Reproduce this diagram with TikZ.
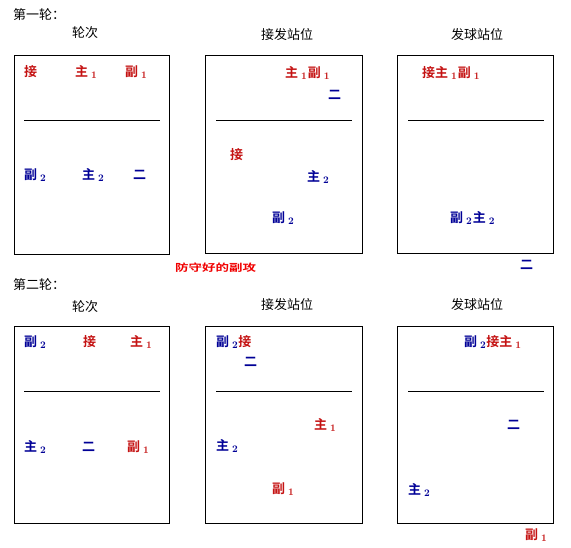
\documentclass[tikz,border=0pt]{standalone}
\usepackage{fontspec}
\usepackage{xcolor}
\newfontfamily\cjk[BoldFont={Noto Sans CJK SC Bold}]{Noto Sans CJK SC}
\definecolor{frontred}{RGB}{196,18,18}
\definecolor{backblue}{RGB}{0,0,150}
\definecolor{notered}{RGB}{240,0,0}
% a player with his number
\newcommand{\pl}[2]{#1\hspace{3pt}\raisebox{-2.5pt}{\normalfont\bfseries\fontsize{10}{10}\selectfont #2}\hspace{1pt}}
\tikzset{
  title/.style={font=\cjk\fontsize{13}{14}\selectfont, inner sep=0pt},
  front/.style={font=\cjk\bfseries\fontsize{13}{14}\selectfont, text=frontred, inner sep=0pt, anchor=west},
  back/.style={font=\cjk\bfseries\fontsize{13}{14}\selectfont, text=backblue, inner sep=0pt, anchor=west},
}

\begin{document}
\begin{tikzpicture}[x=1pt,y=1pt,yscale=-1,xscale=1]
\useasboundingbox (0,0) rectangle (571,548);
%Shape: Rectangle
\draw [line width=0.8] (14,55) rectangle (169,254);
\draw [line width=0.8] (205,55) rectangle (362,253);
\draw [line width=0.8] (397,55) rectangle (553,253);
\draw [line width=0.8] (14,326) rectangle (169,523);
\draw [line width=0.8] (205,326) rectangle (362,523);
\draw [line width=0.8] (397,326) rectangle (553,523);
%Straight Lines
\draw [line width=0.8] (24,120) -- (160,120);
\draw [line width=0.8] (216,120) -- (352,120);
\draw [line width=0.8] (408,120) -- (544,120);
\draw [line width=0.8] (24,391) -- (160,391);
\draw [line width=0.8] (216,391) -- (352,391);
\draw [line width=0.8] (408,391) -- (544,391);

% Text Node
\node [title, anchor=west] (roundone) at (13,15) {第一轮：};
\node [title] (ordone) at (85,33) {轮次};
\node [title] (recone) at (287,35) {接发站位};
\node [title] (srvone) at (477,35) {发球站位};
\node [title, anchor=west] (roundtwo) at (13,285) {第二轮：};
\node [title] (ordtwo) at (85,307) {轮次};
\node [title] (rectwo) at (287,305) {接发站位};
\node [title] (srvtwo) at (477,305) {发球站位};

% round one, rotation
\node [front] (aj) at (24,72) {接};
\node [front] (az) at (75,72) {\pl{主}{1}};
\node [front] (af) at (125,72) {\pl{副}{1}};
\node [back] (bf) at (24,175) {\pl{副}{2}};
\node [back] (bz) at (82,175) {\pl{主}{2}};
\node [back] (be) at (133,175) {二};
% round one, receive
\node [front] (cz) at (285,73) {\pl{主}{1}\pl{副}{1}};
\node [back] (ce) at (328,95) {二};
\node [front] (cj) at (230,155) {接};
\node [back] (dz) at (307,177) {\pl{主}{2}};
\node [back] (df) at (272,218) {\pl{副}{2}};
% round one, serve
\node [front] (ej) at (422,73) {接\pl{主}{1}\pl{副}{1}};
\node [back] (ef) at (450,218) {\pl{副}{2}\pl{主}{2}};
\node [back] (ee) at (520,265) {二};
\node [anchor=west, inner sep=0pt, text=notered,
      font=\cjk\bfseries\fontsize{10}{10}\selectfont] (note) at (175,268) {\scalebox{1.35}[1]{防守好的副攻}};

% round two, rotation
\node [back] (gf) at (24,342) {\pl{副}{2}};
\node [front] (gj) at (83,342) {接};
\node [front] (gz) at (130,342) {\pl{主}{1}};
\node [back] (hz) at (24,447) {\pl{主}{2}};
\node [back] (he) at (82,447) {二};
\node [front] (hf) at (127,447) {\pl{副}{1}};
% round two, receive
\node [back] (kf) at (216,342) {\pl{副}{2}};
\node [front, anchor=west] (kj) at (kf.east) {接};
\node [back] (ke) at (244,362) {二};
\node [front] (kz) at (314,425) {\pl{主}{1}};
\node [back] (lz) at (216,446) {\pl{主}{2}};
\node [front] (lf) at (272,489) {\pl{副}{1}};
% round two, serve
\node [back] (mf) at (464,342) {\pl{副}{2}};
\node [front, anchor=west] (mj) at (mf.east) {接\pl{主}{1}};
\node [back] (me) at (507,425) {二};
\node [back] (nz) at (408,490) {\pl{主}{2}};
\node [front] (nf) at (525,535) {\pl{副}{1}};
\end{tikzpicture}
\end{document}
